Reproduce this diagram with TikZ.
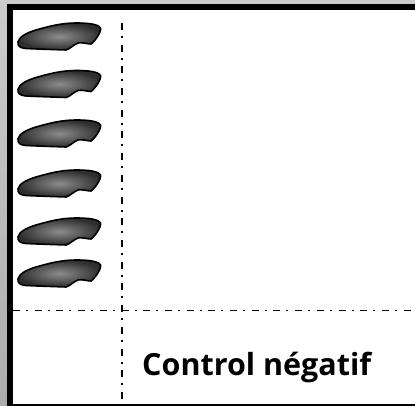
\documentclass[tikz,border=0pt]{standalone}
\usepackage{fontspec}
\setmainfont{Open Sans}
\begin{document}
\begin{tikzpicture}[x=1pt,y=-1pt,
  divider/.style={black,line width=1.9pt,dash pattern=on 7pt off 6pt on 2pt off 6.7pt},
  blob/.pic={
    \shade[draw=black,line width=1.6pt,inner color=black!45,outer color=black!82,
      rounded corners=0pt]
      (18,42) .. controls (19,37) and (26,33) .. (36,30)
      .. controls (50,26) and (62,23) .. (76,23)
      .. controls (88,23) and (98,24) .. (100.5,28)
      .. controls (101.5,32) and (95,41) .. (91,44)
      .. controls (87,44) and (82,42) .. (78,43)
      .. controls (73,45) and (70,49) .. (66,50)
      .. controls (52,49.5) and (36,49) .. (26,48.5)
      .. controls (20,48) and (17.5,46) .. (18,42) -- cycle;
  }]
\useasboundingbox (0,0) rectangle (415,406);
\shade[top color=gray!40,bottom color=gray!65] (0,0) rectangle (415,406);
\fill[white] (13,10) rectangle (415,404);
\fill[black] (7,4) rectangle (415,10);
\fill[black] (7,4) rectangle (13,406);
\fill[black] (7,403.5) rectangle (415,406);
\foreach \dy in {0,47.5,97,147,195,237} {
  \pic at (0,\dy) {blob};
}
\coordinate (vt) at (122,23);
\coordinate (vb) at (122,404);
\coordinate (hl) at (13,310.5);
\coordinate (hr) at (415,310.5);
\draw[divider] (vt) -- (vb);
\draw[divider] (hl) -- (hr);
\node[anchor=base west,inner sep=0pt,font=\fontsize{30.5pt}{32pt}\selectfont\bfseries] (lab) at (142,375) {Control négatif};
\end{tikzpicture}
\end{document}
